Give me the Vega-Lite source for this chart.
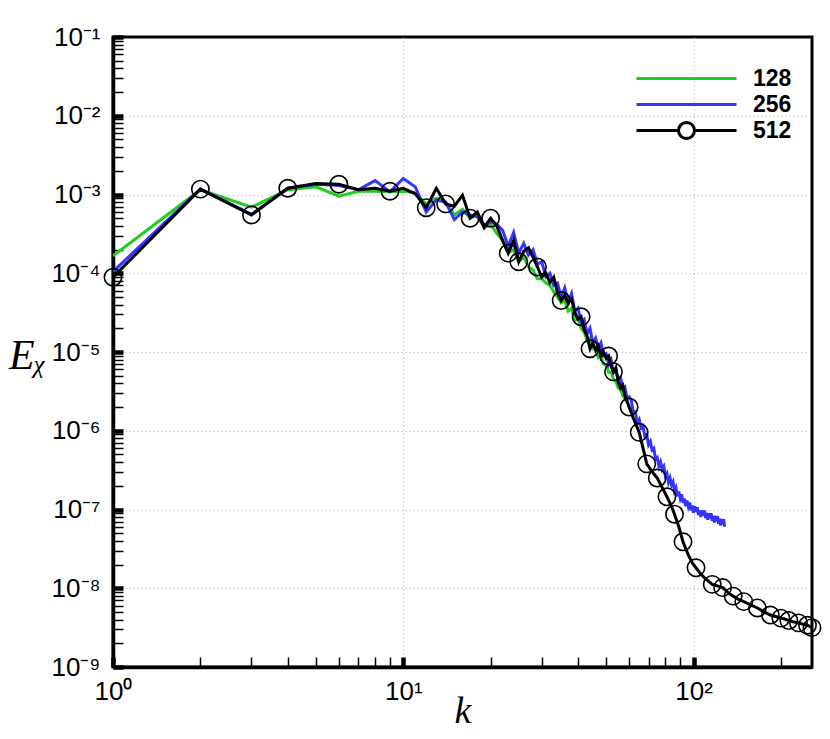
{
  "$schema": "https://vega.github.io/schema/vega-lite/v6.json",
  "width": 699,
  "height": 630,
  "autosize": "none",
  "padding": {"left": 113, "top": 37, "right": 18, "bottom": 72},
  "background": "white",
  "config": {
    "view": {"stroke": "black", "strokeWidth": 3},
    "font": "Liberation Sans"
  },
  "data": {
    "values": [
      {"s": "128", "k": 1, "E": 1.66e-4}, {"s": "128", "k": 2, "E": 1.15e-3}, {"s": "128", "k": 3, "E": 6.9e-4}, {"s": "128", "k": 4, "E": 1.15e-3},
      {"s": "128", "k": 5, "E": 1.25e-3}, {"s": "128", "k": 6, "E": 9.5e-4}, {"s": "128", "k": 7, "E": 1.1e-3}, {"s": "128", "k": 8, "E": 1.1e-3},
      {"s": "128", "k": 9, "E": 1.08e-3}, {"s": "128", "k": 10, "E": 1.1e-3}, {"s": "128", "k": 11, "E": 1.05e-3}, {"s": "128", "k": 12, "E": 7.5e-4},
      {"s": "128", "k": 13, "E": 9.0e-4}, {"s": "128", "k": 14, "E": 8.0e-4}, {"s": "128", "k": 15, "E": 5.5e-4}, {"s": "128", "k": 16, "E": 6.5e-4},
      {"s": "128", "k": 17, "E": 5.0e-4}, {"s": "128", "k": 18, "E": 5.5e-4}, {"s": "128", "k": 19, "E": 3.8e-4}, {"s": "128", "k": 20, "E": 4.2e-4},
      {"s": "128", "k": 21, "E": 3.2e-4}, {"s": "128", "k": 22, "E": 2.6e-4}, {"s": "128", "k": 23, "E": 1.8e-4}, {"s": "128", "k": 24, "E": 2.0e-4},
      {"s": "128", "k": 25, "E": 1.4e-4}, {"s": "128", "k": 26, "E": 1.6e-4}, {"s": "128", "k": 27, "E": 1.2e-4}, {"s": "128", "k": 28, "E": 1.1e-4},
      {"s": "128", "k": 29, "E": 8.5e-5}, {"s": "128", "k": 30, "E": 8.5e-5}, {"s": "128", "k": 31, "E": 7.5e-5}, {"s": "128", "k": 32, "E": 7.0e-5},
      {"s": "128", "k": 33, "E": 5.8e-5}, {"s": "128", "k": 34, "E": 5.0e-5}, {"s": "128", "k": 35, "E": 4.2e-5}, {"s": "128", "k": 36, "E": 4.5e-5},
      {"s": "128", "k": 37, "E": 3.3e-5}, {"s": "128", "k": 38, "E": 3.6e-5}, {"s": "128", "k": 39, "E": 2.5e-5}, {"s": "128", "k": 40, "E": 2.7e-5},
      {"s": "128", "k": 41, "E": 2.0e-5}, {"s": "128", "k": 42, "E": 1.8e-5}, {"s": "128", "k": 43, "E": 1.4e-5}, {"s": "128", "k": 44, "E": 1.5e-5},
      {"s": "128", "k": 45, "E": 1.1e-5}, {"s": "128", "k": 46, "E": 1.1e-5}, {"s": "128", "k": 47, "E": 8.5e-6}, {"s": "128", "k": 48, "E": 9.0e-6},
      {"s": "128", "k": 49, "E": 7.0e-6}, {"s": "128", "k": 50, "E": 6.8e-6}, {"s": "128", "k": 51, "E": 5.5e-6}, {"s": "128", "k": 52, "E": 5.6e-6},
      {"s": "128", "k": 53, "E": 4.5e-6}, {"s": "128", "k": 54, "E": 4.2e-6}, {"s": "128", "k": 55, "E": 3.5e-6}, {"s": "128", "k": 56, "E": 3.4e-6},
      {"s": "128", "k": 57, "E": 2.8e-6}, {"s": "128", "k": 58, "E": 2.6e-6}, {"s": "128", "k": 59, "E": 2.3e-6}, {"s": "128", "k": 60, "E": 2.0e-6},
      {"s": "128", "k": 61, "E": 1.8e-6}, {"s": "128", "k": 62, "E": 1.7e-6},

      {"s": "256", "k": 1, "E": 1.05e-4}, {"s": "256", "k": 2, "E": 1.17e-3}, {"s": "256", "k": 3, "E": 5.6e-4}, {"s": "256", "k": 4, "E": 1.2e-3},
      {"s": "256", "k": 5, "E": 1.35e-3}, {"s": "256", "k": 6, "E": 1.3e-3}, {"s": "256", "k": 7, "E": 1.15e-3}, {"s": "256", "k": 8, "E": 1.5e-3},
      {"s": "256", "k": 9, "E": 1.08e-3}, {"s": "256", "k": 10, "E": 1.6e-3}, {"s": "256", "k": 11, "E": 1.25e-3}, {"s": "256", "k": 12, "E": 6.0e-4},
      {"s": "256", "k": 13, "E": 8.5e-4}, {"s": "256", "k": 14, "E": 8.0e-4}, {"s": "256", "k": 15, "E": 4.8e-4}, {"s": "256", "k": 16, "E": 6.0e-4},
      {"s": "256", "k": 17, "E": 5.5e-4}, {"s": "256", "k": 18, "E": 5.2e-4}, {"s": "256", "k": 19, "E": 4.0e-4}, {"s": "256", "k": 20, "E": 4.5e-4},
      {"s": "256", "k": 21, "E": 4.2e-4}, {"s": "256", "k": 22, "E": 3.5e-4}, {"s": "256", "k": 23, "E": 2.2e-4}, {"s": "256", "k": 24, "E": 3.3e-4},
      {"s": "256", "k": 25, "E": 1.8e-4}, {"s": "256", "k": 26, "E": 2.4e-4}, {"s": "256", "k": 27, "E": 1.7e-4}, {"s": "256", "k": 28, "E": 2.0e-4},
      {"s": "256", "k": 29, "E": 1.3e-4}, {"s": "256", "k": 30, "E": 1.4e-4}, {"s": "256", "k": 31, "E": 9.0e-5}, {"s": "256", "k": 32, "E": 1.0e-4},
      {"s": "256", "k": 33, "E": 7.0e-5}, {"s": "256", "k": 34, "E": 7.5e-5}, {"s": "256", "k": 35, "E": 5.0e-5}, {"s": "256", "k": 36, "E": 6.5e-5},
      {"s": "256", "k": 37, "E": 4.3e-5}, {"s": "256", "k": 38, "E": 5.5e-5}, {"s": "256", "k": 39, "E": 3.3e-5}, {"s": "256", "k": 40, "E": 3.6e-5},
      {"s": "256", "k": 41, "E": 2.4e-5}, {"s": "256", "k": 42, "E": 2.6e-5}, {"s": "256", "k": 43, "E": 1.7e-5}, {"s": "256", "k": 44, "E": 2.0e-5},
      {"s": "256", "k": 45, "E": 1.3e-5}, {"s": "256", "k": 46, "E": 1.5e-5}, {"s": "256", "k": 47, "E": 1.1e-5}, {"s": "256", "k": 48, "E": 1.3e-5},
      {"s": "256", "k": 49, "E": 9.0e-6}, {"s": "256", "k": 50, "E": 9.5e-6}, {"s": "256", "k": 51, "E": 7.0e-6}, {"s": "256", "k": 52, "E": 8.0e-6},
      {"s": "256", "k": 53, "E": 5.5e-6}, {"s": "256", "k": 54, "E": 6.0e-6}, {"s": "256", "k": 55, "E": 4.5e-6}, {"s": "256", "k": 56, "E": 4.8e-6},
      {"s": "256", "k": 57, "E": 3.4e-6}, {"s": "256", "k": 58, "E": 3.6e-6}, {"s": "256", "k": 59, "E": 2.6e-6}, {"s": "256", "k": 60, "E": 2.7e-6},
      {"s": "256", "k": 61, "E": 2.45e-6}, {"s": "256", "k": 62, "E": 1.72e-6}, {"s": "256", "k": 63, "E": 1.75e-6}, {"s": "256", "k": 64, "E": 1.26e-6},
      {"s": "256", "k": 65, "E": 1.39e-6}, {"s": "256", "k": 66, "E": 1.09e-6}, {"s": "256", "k": 67, "E": 1.15e-6}, {"s": "256", "k": 68, "E": 8.43e-7},
      {"s": "256", "k": 69, "E": 8.91e-7}, {"s": "256", "k": 70, "E": 6.64e-7}, {"s": "256", "k": 71, "E": 7.3e-7}, {"s": "256", "k": 72, "E": 5.69e-7},
      {"s": "256", "k": 73, "E": 5.98e-7}, {"s": "256", "k": 74, "E": 4.35e-7}, {"s": "256", "k": 75, "E": 4.57e-7}, {"s": "256", "k": 76, "E": 3.52e-7},
      {"s": "256", "k": 77, "E": 4.0e-7}, {"s": "256", "k": 78, "E": 3.23e-7}, {"s": "256", "k": 79, "E": 3.51e-7}, {"s": "256", "k": 80, "E": 2.64e-7},
      {"s": "256", "k": 81, "E": 2.86e-7}, {"s": "256", "k": 82, "E": 2.21e-7}, {"s": "256", "k": 83, "E": 2.51e-7}, {"s": "256", "k": 84, "E": 2.05e-7},
      {"s": "256", "k": 85, "E": 2.25e-7}, {"s": "256", "k": 86, "E": 1.71e-7}, {"s": "256", "k": 87, "E": 1.89e-7}, {"s": "256", "k": 88, "E": 1.47e-7},
      {"s": "256", "k": 89, "E": 1.69e-7}, {"s": "256", "k": 90, "E": 1.38e-7}, {"s": "256", "k": 91, "E": 1.56e-7}, {"s": "256", "k": 92, "E": 1.22e-7},
      {"s": "256", "k": 93, "E": 1.38e-7}, {"s": "256", "k": 94, "E": 1.10e-7}, {"s": "256", "k": 95, "E": 1.30e-7}, {"s": "256", "k": 96, "E": 1.09e-7},
      {"s": "256", "k": 97, "E": 1.23e-7}, {"s": "256", "k": 98, "E": 9.77e-8}, {"s": "256", "k": 99, "E": 1.12e-7}, {"s": "256", "k": 100, "E": 9.12e-8},
      {"s": "256", "k": 101, "E": 1.10e-7}, {"s": "256", "k": 102, "E": 9.33e-8}, {"s": "256", "k": 103, "E": 1.07e-7}, {"s": "256", "k": 104, "E": 8.51e-8},
      {"s": "256", "k": 105, "E": 9.77e-8}, {"s": "256", "k": 106, "E": 8.02e-8}, {"s": "256", "k": 107, "E": 9.73e-8}, {"s": "256", "k": 108, "E": 8.37e-8},
      {"s": "256", "k": 109, "E": 9.7e-8}, {"s": "256", "k": 110, "E": 7.78e-8}, {"s": "256", "k": 111, "E": 9.02e-8}, {"s": "256", "k": 112, "E": 7.4e-8},
      {"s": "256", "k": 113, "E": 8.97e-8}, {"s": "256", "k": 114, "E": 7.72e-8}, {"s": "256", "k": 115, "E": 8.95e-8}, {"s": "256", "k": 116, "E": 7.18e-8},
      {"s": "256", "k": 117, "E": 8.32e-8}, {"s": "256", "k": 118, "E": 6.82e-8}, {"s": "256", "k": 119, "E": 8.26e-8}, {"s": "256", "k": 120, "E": 7.1e-8},
      {"s": "256", "k": 121, "E": 8.22e-8}, {"s": "256", "k": 122, "E": 6.58e-8}, {"s": "256", "k": 123, "E": 7.62e-8}, {"s": "256", "k": 124, "E": 6.24e-8},
      {"s": "256", "k": 125, "E": 7.57e-8}, {"s": "256", "k": 126, "E": 6.5e-8}, {"s": "256", "k": 127, "E": 7.52e-8}, {"s": "256", "k": 128, "E": 6.03e-8},

      {"s": "512", "k": 1, "E": 8.9e-5, "m": 1}, {"s": "512", "k": 2, "E": 1.17e-3, "m": 1}, {"s": "512", "k": 3, "E": 5.5e-4, "m": 1}, {"s": "512", "k": 4, "E": 1.2e-3, "m": 1},
      {"s": "512", "k": 5, "E": 1.38e-3}, {"s": "512", "k": 6, "E": 1.35e-3, "m": 1}, {"s": "512", "k": 7, "E": 1.15e-3}, {"s": "512", "k": 8, "E": 1.2e-3},
      {"s": "512", "k": 9, "E": 1.1e-3, "m": 1}, {"s": "512", "k": 10, "E": 1.2e-3}, {"s": "512", "k": 11, "E": 1.02e-3}, {"s": "512", "k": 12, "E": 6.8e-4, "m": 1},
      {"s": "512", "k": 13, "E": 1.2e-3}, {"s": "512", "k": 14, "E": 7.6e-4, "m": 1}, {"s": "512", "k": 15, "E": 7.1e-4}, {"s": "512", "k": 16, "E": 9.8e-4},
      {"s": "512", "k": 17, "E": 5.0e-4, "m": 1}, {"s": "512", "k": 18, "E": 6.0e-4}, {"s": "512", "k": 19, "E": 3.8e-4}, {"s": "512", "k": 20, "E": 5.0e-4, "m": 1},
      {"s": "512", "k": 21, "E": 4.0e-4}, {"s": "512", "k": 22, "E": 2.6e-4}, {"s": "512", "k": 23, "E": 1.8e-4, "m": 1}, {"s": "512", "k": 24, "E": 2.6e-4},
      {"s": "512", "k": 25, "E": 1.4e-4, "m": 1}, {"s": "512", "k": 26, "E": 1.9e-4}, {"s": "512", "k": 27, "E": 2.1e-4}, {"s": "512", "k": 28, "E": 1.6e-4},
      {"s": "512", "k": 29, "E": 1.2e-4, "m": 1}, {"s": "512", "k": 30, "E": 8.9e-5}, {"s": "512", "k": 31, "E": 1.0e-4}, {"s": "512", "k": 32, "E": 7.6e-5},
      {"s": "512", "k": 33, "E": 8.9e-5}, {"s": "512", "k": 34, "E": 5.6e-5}, {"s": "512", "k": 35, "E": 4.5e-5, "m": 1}, {"s": "512", "k": 36, "E": 5.2e-5},
      {"s": "512", "k": 37, "E": 4.2e-5}, {"s": "512", "k": 38, "E": 4.7e-5}, {"s": "512", "k": 39, "E": 3.2e-5}, {"s": "512", "k": 40, "E": 2.6e-5},
      {"s": "512", "k": 41, "E": 2.8e-5, "m": 1}, {"s": "512", "k": 42, "E": 1.9e-5}, {"s": "512", "k": 43, "E": 1.6e-5}, {"s": "512", "k": 44, "E": 1.1e-5, "m": 1},
      {"s": "512", "k": 45, "E": 1.3e-5}, {"s": "512", "k": 46, "E": 1.05e-5}, {"s": "512", "k": 47, "E": 1.2e-5}, {"s": "512", "k": 48, "E": 8.9e-6},
      {"s": "512", "k": 49, "E": 1.0e-5}, {"s": "512", "k": 50, "E": 8.3e-6}, {"s": "512", "k": 51, "E": 8.9e-6, "m": 1}, {"s": "512", "k": 52, "E": 6.6e-6},
      {"s": "512", "k": 53, "E": 5.6e-6, "m": 1}, {"s": "512", "k": 54, "E": 6.3e-6}, {"s": "512", "k": 55, "E": 4.2e-6}, {"s": "512", "k": 56, "E": 3.5e-6},
      {"s": "512", "k": 57, "E": 3.8e-6}, {"s": "512", "k": 58, "E": 2.8e-6}, {"s": "512", "k": 59, "E": 2.4e-6}, {"s": "512", "k": 60, "E": 2.0e-6, "m": 1},
      {"s": "512", "k": 62, "E": 1.45e-6}, {"s": "512", "k": 65, "E": 9.55e-7, "m": 1}, {"s": "512", "k": 67, "E": 6.03e-7}, {"s": "512", "k": 69, "E": 3.8e-7, "m": 1},
      {"s": "512", "k": 72, "E": 3.02e-7}, {"s": "512", "k": 75, "E": 2.51e-7, "m": 1}, {"s": "512", "k": 78, "E": 1.91e-7}, {"s": "512", "k": 81, "E": 1.45e-7, "m": 1},
      {"s": "512", "k": 84, "E": 1.10e-7}, {"s": "512", "k": 86, "E": 8.71e-8, "m": 1}, {"s": "512", "k": 89, "E": 6.03e-8}, {"s": "512", "k": 92, "E": 3.89e-8, "m": 1},
      {"s": "512", "k": 96, "E": 2.63e-8}, {"s": "512", "k": 99, "E": 2.09e-8}, {"s": "512", "k": 102, "E": 1.82e-8, "m": 1}, {"s": "512", "k": 106, "E": 1.51e-8},
      {"s": "512", "k": 110, "E": 1.32e-8}, {"s": "512", "k": 116, "E": 1.12e-8, "m": 1}, {"s": "512", "k": 121, "E": 1.07e-8}, {"s": "512", "k": 126, "E": 1.02e-8, "m": 1},
      {"s": "512", "k": 131, "E": 8.91e-9}, {"s": "512", "k": 137, "E": 7.94e-9, "m": 1}, {"s": "512", "k": 143, "E": 7.24e-9}, {"s": "512", "k": 149, "E": 6.76e-9, "m": 1},
      {"s": "512", "k": 157, "E": 6.17e-9}, {"s": "512", "k": 166, "E": 5.62e-9, "m": 1}, {"s": "512", "k": 175, "E": 5.01e-9}, {"s": "512", "k": 184, "E": 4.57e-9, "m": 1},
      {"s": "512", "k": 192, "E": 4.37e-9}, {"s": "512", "k": 200, "E": 4.17e-9, "m": 1}, {"s": "512", "k": 206, "E": 4.07e-9}, {"s": "512", "k": 213, "E": 3.89e-9, "m": 1},
      {"s": "512", "k": 222, "E": 3.72e-9}, {"s": "512", "k": 230, "E": 3.63e-9, "m": 1}, {"s": "512", "k": 240, "E": 3.47e-9}, {"s": "512", "k": 247, "E": 3.39e-9, "m": 1},
      {"s": "512", "k": 256, "E": 3.16e-9, "m": 1}
    ]
  },
  "encoding": {
    "x": {
      "field": "k",
      "type": "quantitative",
      "scale": {"type": "log", "domain": [1, 256], "nice": false},
      "axis": {
        "title": "k",
        "titleFont": "Liberation Serif",
        "titleFontStyle": "italic",
        "titleFontWeight": "normal",
        "titleFontSize": 38,
        "titlePadding": -12,
        "values": [1, 2, 3, 4, 5, 6, 7, 8, 9, 10, 20, 30, 40, 50, 60, 70, 80, 90, 100, 200],
        "labelExpr": "indexof([1, 10, 100], datum.value) >= 0 ? '10' + ['⁰', '¹', '²'][round(log(datum.value) / LN10)] : ''",
        "labelFontSize": 26,
        "labelColor": "black",
        "labelPadding": 21,
        "labelFlush": false,
        "labelOverlap": false,
        "labelBound": false,
        "domainColor": "black",
        "domainWidth": 3.5,
        "tickColor": "black",
        "tickSize": -10,
        "tickWidth": {"condition": {"test": "indexof([1, 10, 100], datum.value) >= 0", "value": 4.5}, "value": 1.5},
        "grid": true,
        "gridColor": "#b0b0b0",
        "gridDash": [1, 3],
        "gridWidth": 1,
        "gridOpacity": {"condition": {"test": "indexof([10, 100], datum.value) >= 0", "value": 1}, "value": 0},
        "encode": {
          "ticks": {"update": {"y2": {"signal": "indexof([1, 10, 100], datum.value) >= 0 ? -14 : -8"}}}
        }
      }
    },
    "y": {
      "field": "E",
      "type": "quantitative",
      "scale": {"type": "log", "domain": [1e-9, 1e-1], "nice": false},
      "axis": {
        "title": "Eᵪ",
        "titleFont": "Liberation Serif",
        "titleFontStyle": "italic",
        "titleFontWeight": "normal",
        "titleFontSize": 42,
        "titleAngle": 0,
        "titleAlign": "center",
        "titleBaseline": "middle",
        "titleX": -86,
        "titleY": 318,
        "values": [1e-9, 2e-9, 3e-9, 4e-9, 5e-9, 6e-9, 7e-9, 8e-9, 9e-9,
                   1e-8, 2e-8, 3e-8, 4e-8, 5e-8, 6e-8, 7e-8, 8e-8, 9e-8,
                   1e-7, 2e-7, 3e-7, 4e-7, 5e-7, 6e-7, 7e-7, 8e-7, 9e-7,
                   1e-6, 2e-6, 3e-6, 4e-6, 5e-6, 6e-6, 7e-6, 8e-6, 9e-6,
                   1e-5, 2e-5, 3e-5, 4e-5, 5e-5, 6e-5, 7e-5, 8e-5, 9e-5,
                   1e-4, 2e-4, 3e-4, 4e-4, 5e-4, 6e-4, 7e-4, 8e-4, 9e-4,
                   1e-3, 2e-3, 3e-3, 4e-3, 5e-3, 6e-3, 7e-3, 8e-3, 9e-3,
                   1e-2, 2e-2, 3e-2, 4e-2, 5e-2, 6e-2, 7e-2, 8e-2, 9e-2, 1e-1],
        "labelExpr": "abs(log(datum.value) / LN10 - round(log(datum.value) / LN10)) < 0.01 ? '10⁻' + ['⁰', '¹', '²', '³', '⁴', '⁵', '⁶', '⁷', '⁸', '⁹'][-round(log(datum.value) / LN10)] : ''",
        "labelFontSize": 26,
        "labelColor": "black",
        "labelPadding": 23,
        "labelFlush": false,
        "labelOverlap": false,
        "labelBound": false,
        "domainColor": "black",
        "domainWidth": 3.5,
        "tickColor": "black",
        "tickSize": -10,
        "tickWidth": {"condition": {"test": "abs(log(datum.value) / LN10 - round(log(datum.value) / LN10)) < 0.01", "value": 4.5}, "value": 1.5},
        "grid": true,
        "gridColor": "#b0b0b0",
        "gridDash": [1, 3],
        "gridWidth": 1,
        "gridOpacity": {"condition": {"test": "abs(log(datum.value) / LN10 - round(log(datum.value) / LN10)) < 0.01 && datum.value > 2e-9 && datum.value < 0.05", "value": 1}, "value": 0},
        "encode": {
          "ticks": {"update": {"x2": {"signal": "abs(log(datum.value) / LN10 - round(log(datum.value) / LN10)) < 0.01 ? 12 : 7"}}}
        }
      }
    }
  },
  "layer": [
    {
      "mark": {"type": "line", "strokeWidth": 3, "clip": true},
      "encoding": {
        "color": {
          "field": "s",
          "type": "nominal",
          "scale": {"domain": ["128", "256", "512"], "range": ["#1ecf1e", "#3434ff", "#000000"]},
          "legend": {
            "title": null,
            "orient": "none",
            "legendX": 562,
            "legendY": 30,
            "symbolType": "M-5,0H5",
            "symbolSize": 400,
            "symbolStrokeWidth": 3,
            "labelFont": "Liberation Sans",
            "labelFontWeight": "bold",
            "labelFontSize": 23,
            "labelColor": "black",
            "labelOffset": 55,
            "rowPadding": -6.5,
            "encode": {
              "symbols": {
                "update": {
                  "shape": {"signal": "datum.value === '512' ? 'M-5,0H-0.8M0.8,0H5M0.8,0L0.739,0.306L0.566,0.566L0.306,0.739L0,0.8L-0.306,0.739L-0.566,0.566L-0.739,0.306L-0.8,0L-0.739,-0.306L-0.566,-0.566L-0.306,-0.739L0,-0.8L0.306,-0.739L0.566,-0.566L0.739,-0.306Z' : 'M-5,0H5M0,-0.8L0,-0.8M0,0.8L0,0.8'"},
                  "fill": {"value": "transparent"}
                }
              }
            }
          }
        }
      }
    },
    {
      "transform": [{"filter": "datum.m == 1"}],
      "mark": {"type": "point", "shape": "circle", "filled": false, "color": "black", "size": 300, "strokeWidth": 1.6, "opacity": 1, "clip": false}
    }
  ]
}
